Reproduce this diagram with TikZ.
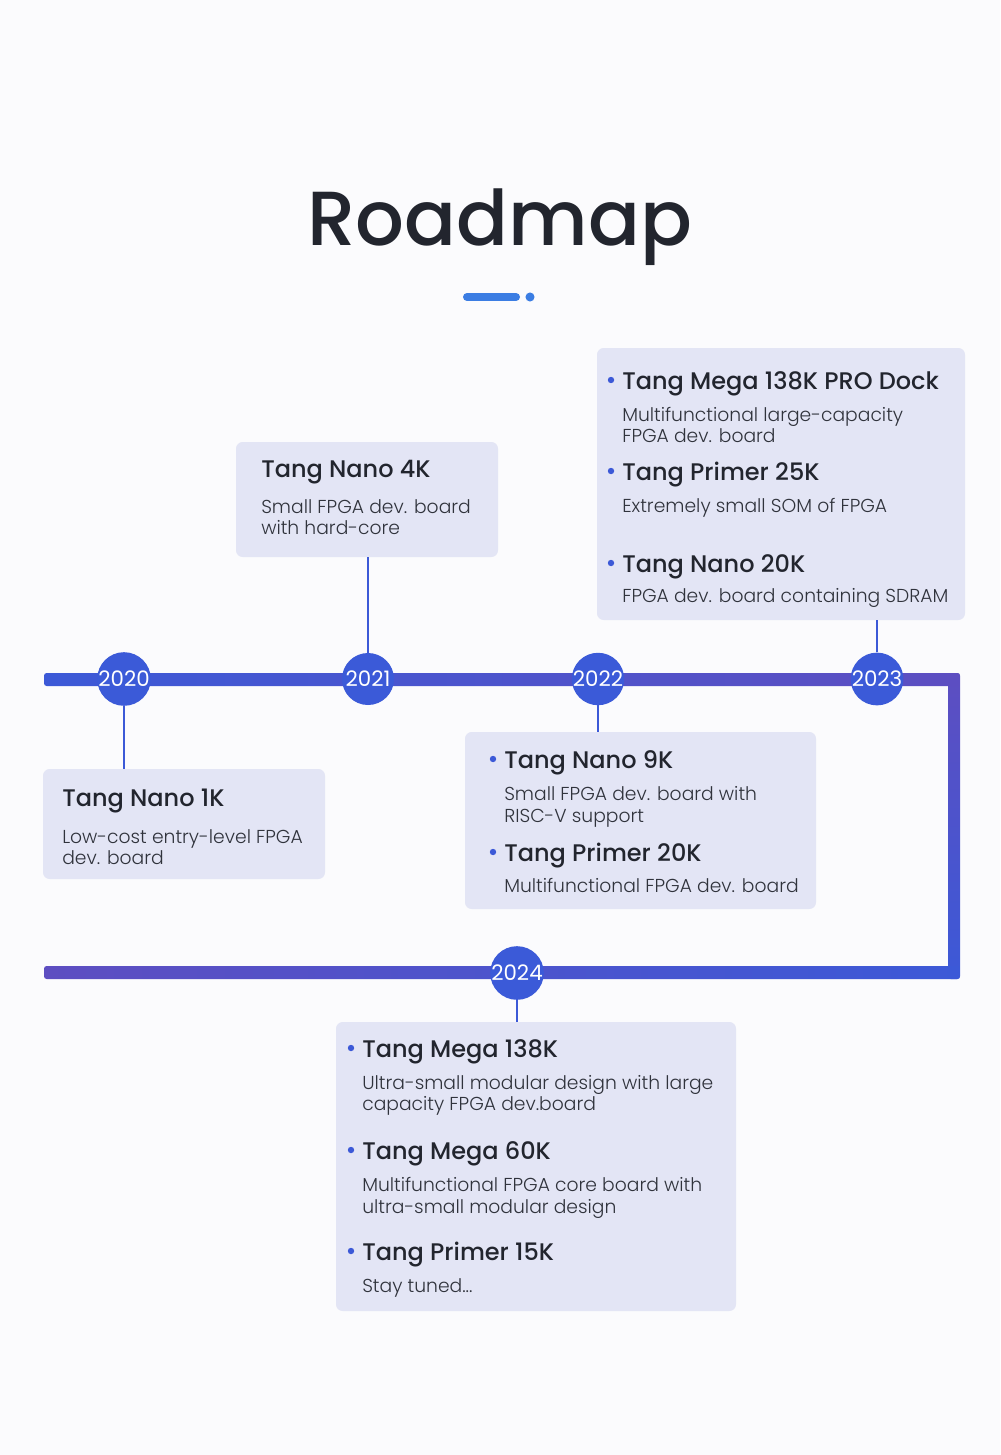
\documentclass[tikz,border=0pt]{standalone}
\usepackage{fontspec}
\setmainfont{Poppins}
\newfontfamily\headfont{Poppins Medium}
\newfontfamily\bodyfont{Poppins Light}
\definecolor{bg}{HTML}{FBFBFD}
\definecolor{boxfill}{HTML}{E3E5F5}
\definecolor{lineblue}{HTML}{3C59D7}
\definecolor{linepurple}{HTML}{5D4EC1}
\definecolor{circblue}{HTML}{3B5AD8}
\definecolor{titlebar}{HTML}{3B7DE3}
\definecolor{headtxt}{HTML}{22252E}
\definecolor{bodytxt}{HTML}{30333C}
\tikzset{
  card/.style={fill=boxfill, rounded corners=5pt, draw=none, inner sep=0},
  yearnode/.style={circle, fill=circblue, minimum size=39pt, inner sep=0, text=white, font=\fontsize{16}{16}\selectfont},
  head/.style={anchor=base west, inner sep=0, text=headtxt, font=\headfont\fontsize{18}{18}\selectfont},
  body/.style={anchor=base west, inner sep=0, text=bodytxt, font=\bodyfont\fontsize{14.05}{16}\selectfont},
  stem/.style={draw=lineblue, line width=1.5pt},
  bulletdot/.style={circle, fill=lineblue, inner sep=0, minimum size=4.8pt},
}
\begin{document}
\begin{tikzpicture}[x=0.75pt, y=-0.75pt]
\fill[bg] (0,0) rectangle (1000,1455);
\useasboundingbox (0,0) rectangle (1000,1455);

% title
\node[anchor=base, inner sep=0, text=headtxt, font=\headfont\fontsize{57.5}{57.5}\selectfont] (title) at (500,245) {Roadmap};
\draw[titlebar, line width=6pt, line cap=round] (467,297) -- (516,297);
\fill[titlebar] (530,297) circle (3.4pt);

% timeline
\shade[left color=lineblue, right color=linepurple, rounded corners=2pt] (44,673) rectangle (960,686);
\shade[top color=linepurple, bottom color=lineblue, rounded corners=2pt] (948,673) rectangle (960,979);
\shade[left color=linepurple, right color=lineblue, rounded corners=2pt] (44,966) rectangle (960,979);

% cards
\node[card, minimum width=196.5pt, minimum height=86.25pt] (c4k) at (367,499.5) {};
\node[card, minimum width=211.5pt, minimum height=82.5pt] (c1k) at (184,824) {};
\node[card, minimum width=263.25pt, minimum height=132.75pt] (c9k) at (640.5,820.5) {};
\node[card, minimum width=276pt, minimum height=204pt] (c23) at (781,484) {};
\node[card, minimum width=300pt, minimum height=216.75pt] (c24) at (536,1166.5) {};

% year circles
\node[yearnode] (y2020) at (124,679) {\raisebox{-1pt}{2020}};
\node[yearnode] (y2021) at (368,679) {\raisebox{-1pt}{2021}};
\node[yearnode] (y2022) at (598,679) {\raisebox{-1pt}{2022}};
\node[yearnode] (y2023) at (877,679) {\raisebox{-1pt}{2023}};
\node[yearnode] (y2024) at (517,973) {\raisebox{-1pt}{2024}};

% stems
\draw[stem] (y2020.south) -- (y2020.south |- c1k.north);
\draw[stem] (y2021.north) -- (y2021.north |- c4k.south);
\draw[stem] (y2022.south) -- (y2022.south |- c9k.north);
\draw[stem] (y2023.north) -- (y2023.north |- c23.south);
\draw[stem] (y2024.south) -- (y2024.south |- c24.north);

% 2021 card
\node[head] (h4k) at (261,477) {Tang Nano 4K};
\node[body] (b4ka) at (261,513) {Small FPGA dev. board};
\node[body] (b4kb) at (261,534) {with hard-core};

% 2020 card
\node[head] (h1k) at (62,806) {Tang Nano 1K};
\node[body] (b1ka) at (62,843) {Low-cost entry-level FPGA};
\node[body] (b1kb) at (62,864) {dev. board};

% 2022 card
\node[bulletdot] (d9k) at (493,759) {};
\node[head] (h9k) at (504,768) {Tang Nano 9K};
\node[body] (b9ka) at (504,800) {Small FPGA dev. board with};
\node[body] (b9kb) at (504,822) {RISC-V support};
\node[bulletdot] (dp20) at (493,852) {};
\node[head] (hp20) at (504,861) {Tang Primer 20K};
\node[body] (bp20) at (504,892) {Multifunctional FPGA dev. board};

% 2023 card
\node[bulletdot] (dm138p) at (611,380) {};
\node[head] (hm138p) at (622,389) {Tang Mega 138K PRO Dock};
\node[body] (bm138pa) at (622,421) {Multifunctional large-capacity};
\node[body] (bm138pb) at (622,442) {FPGA dev. board};
\node[bulletdot] (dp25) at (611,471) {};
\node[head] (hp25) at (622,480) {Tang Primer 25K};
\node[body] (bp25) at (622,512) {Extremely small SOM of FPGA};
\node[bulletdot] (dn20) at (611,563) {};
\node[head] (hn20) at (622,572) {Tang Nano 20K};
\node[body] (bn20) at (622,602) {FPGA dev. board containing SDRAM};

% 2024 card
\node[bulletdot] (dm138) at (351,1048) {};
\node[head] (hm138) at (362,1057) {Tang Mega 138K};
\node[body] (bm138a) at (362,1089) {Ultra-small modular design with large};
\node[body] (bm138b) at (362,1110) {capacity FPGA dev.board};
\node[bulletdot] (dm60) at (351,1150) {};
\node[head] (hm60) at (362,1159) {Tang Mega 60K};
\node[body] (bm60a) at (362,1191) {Multifunctional FPGA core board with};
\node[body] (bm60b) at (362,1213) {ultra-small modular design};
\node[bulletdot] (dp15) at (351,1251) {};
\node[head] (hp15) at (362,1260) {Tang Primer 15K};
\node[body] (bp15) at (362,1292) {Stay tuned...};
\end{tikzpicture}
\end{document}
